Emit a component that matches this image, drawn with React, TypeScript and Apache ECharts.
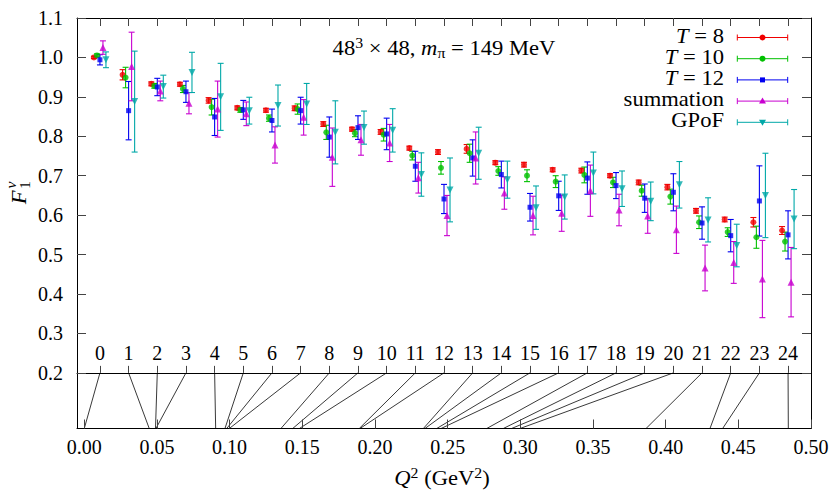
import React, { useEffect, useRef } from "react";
import * as echarts from "echarts";

// ---------- data ----------
const indexTicks = [0, 1, 2, 3, 4, 5, 6, 7, 8, 9, 10, 11, 12, 13, 14, 15, 16, 17, 18, 19, 20, 21, 22, 23, 24];
const q2TickValues = [0, 0.05, 0.1, 0.15, 0.2, 0.25, 0.3, 0.35, 0.4, 0.45, 0.5];
const yTickValues = [0.2, 0.3, 0.4, 0.5, 0.6, 0.7, 0.8, 0.9, 1.0, 1.1];

// Q^2 (GeV^2) belonging to each momentum index
const q2Values = [0, 0.0447, 0.049, 0.0493, 0.0904, 0.0968, 0.098, 0.0998, 0.1353, 0.1434, 0.148, 0.1892, 0.1897,
  0.2333, 0.2344, 0.2425, 0.2455, 0.2769, 0.2883, 0.294, 0.2998, 0.3865, 0.4305, 0.4392, 0.4844];

const t8Values = [1.0, 0.956, 0.933, 0.932, 0.891, 0.872, 0.866, 0.871, 0.831, 0.818, 0.811, 0.77, 0.76, 0.768,
  0.733, 0.728, 0.715, 0.713, 0.7, 0.683, 0.671, 0.611, 0.589, 0.582, 0.561];
const t8Errors = [0.003, 0.013, 0.005, 0.005, 0.007, 0.005, 0.005, 0.006, 0.006, 0.005, 0.006, 0.005, 0.006, 0.011,
  0.005, 0.006, 0.005, 0.006, 0.005, 0.006, 0.007, 0.006, 0.006, 0.012, 0.01];

const t10Values = [1.005, 0.949, 0.928, 0.92, 0.874, 0.867, 0.846, 0.869, 0.81, 0.808, 0.804, 0.751, 0.72, 0.757,
  0.712, 0.7, 0.685, 0.702, 0.683, 0.662, 0.647, 0.582, 0.557, 0.544, 0.533];
const t10Errors = [0.004, 0.026, 0.006, 0.009, 0.02, 0.006, 0.008, 0.013, 0.018, 0.009, 0.016, 0.011, 0.016, 0.023,
  0.011, 0.015, 0.015, 0.02, 0.013, 0.014, 0.019, 0.016, 0.011, 0.028, 0.024];

const t12Values = [0.994, 0.865, 0.925, 0.913, 0.849, 0.867, 0.84, 0.865, 0.798, 0.822, 0.806, 0.724, 0.641, 0.745,
  0.703, 0.62, 0.649, 0.694, 0.675, 0.643, 0.658, 0.58, 0.548, 0.636, 0.55];
const t12Errors = [0.013, 0.074, 0.022, 0.027, 0.047, 0.024, 0.029, 0.034, 0.051, 0.03, 0.04, 0.038, 0.037, 0.046,
  0.034, 0.035, 0.037, 0.041, 0.033, 0.036, 0.047, 0.041, 0.041, 0.089, 0.061];

const summationValues = [1.025, 0.977, 0.915, 0.884, 0.869, 0.857, 0.778, 0.848, 0.747, 0.791, 0.783, 0.695, 0.599,
  0.745, 0.656, 0.599, 0.605, 0.662, 0.613, 0.598, 0.563, 0.466, 0.48, 0.438, 0.43];
const summationErrors = [0.017, 0.087, 0.025, 0.027, 0.071, 0.03, 0.046, 0.045, 0.074, 0.039, 0.047, 0.039, 0.051,
  0.066, 0.041, 0.049, 0.046, 0.065, 0.04, 0.044, 0.06, 0.058, 0.053, 0.098, 0.088];

const gpofValues = [0.994, 0.888, 0.926, 0.962, 0.9, 0.865, 0.878, 0.882, 0.81, 0.822, 0.815, 0.703, 0.664, 0.757,
  0.69, 0.619, 0.646, 0.707, 0.667, 0.635, 0.677, 0.588, 0.523, 0.65, 0.59];
const gpofErrors = [0.02, 0.128, 0.029, 0.051, 0.085, 0.034, 0.052, 0.052, 0.08, 0.042, 0.055, 0.055, 0.081, 0.066,
  0.047, 0.055, 0.056, 0.053, 0.045, 0.049, 0.059, 0.056, 0.054, 0.107, 0.075];

// ---------- layout / style ----------
const FONT = "Liberation Serif";
const IDX_MIN = -0.8;
const IDX_MAX = 24.8;
const Q_MIN = -0.005;
const Q_MAX = 0.5;
const Y_MIN = 0.0589;
const Y_MAX = 1.1;
const Y_SPLIT = 0.2;
const GRID = { left: 77, right: 19, top: 18, bottom: 69.5 };
const CHART_H = 498;
const GRID_H = CHART_H - GRID.top - GRID.bottom;
const TEXT_SCALE = 1.13;

type Spec = {
  name: string;
  label: string;
  values: number[];
  errors: number[];
  color: string;
  symbol: string;
  size: number;
  rotate: number;
  shift: number;
  marker: "circle" | "square" | "up" | "down";
};

const SPECS: Spec[] = [
  { name: "T = 8", label: "{i|T}{n| = 8}", values: t8Values, errors: t8Errors, color: "#f00000", symbol: "circle", size: 6, rotate: 0, shift: -0.21, marker: "circle" },
  { name: "T = 10", label: "{i|T}{n| = 10}", values: t10Values, errors: t10Errors, color: "#00c000", symbol: "circle", size: 6, rotate: 0, shift: -0.105, marker: "circle" },
  { name: "T = 12", label: "{i|T}{n| = 12}", values: t12Values, errors: t12Errors, color: "#0000f0", symbol: "rect", size: 5, rotate: 0, shift: 0, marker: "square" },
  { name: "summation", label: "{n|summation}", values: summationValues, errors: summationErrors, color: "#c800d0", symbol: "triangle", size: 7, rotate: 0, shift: 0.105, marker: "up" },
  { name: "GPoF", label: "{n|GPoF}", values: gpofValues, errors: gpofErrors, color: "#00a8a8", symbol: "triangle", size: 7, rotate: 180, shift: 0.21, marker: "down" },
];

const RICH = {
  n: { fontFamily: FONT, fontSize: 20, lineHeight: 24, fill: "#000" },
  i: { fontFamily: FONT, fontSize: 20, lineHeight: 24, fontStyle: "italic", fill: "#000" },
  sup: { fontFamily: FONT, fontSize: 14, lineHeight: 14, verticalAlign: "top", fill: "#000" },
  sub: { fontFamily: FONT, fontSize: 14, lineHeight: 14, verticalAlign: "bottom", fill: "#000" },
};

const axisLineStyle = { color: "#000", width: 1 };
const tickStyle = { color: "#444", width: 1 };
const labelStyle = { fontFamily: FONT, fontSize: 20, color: "#000" };

function errorBarSeries(s: Spec) {
  return {
    type: "custom",
    name: s.name,
    xAxisIndex: 0,
    yAxisIndex: 0,
    z: 2,
    silent: true,
    encode: { x: 0, y: [1, 2] },
    data: s.values.map((v, i) => [indexTicks[i] + s.shift, v - s.errors[i], v + s.errors[i]]),
    renderItem: (_params: any, api: any) => {
      const x = api.value(0);
      const top = api.coord([x, api.value(2)]);
      const bot = api.coord([x, api.value(1)]);
      const cap = 3;
      const st = { stroke: s.color, lineWidth: 1.1 };
      return {
        type: "group",
        children: [
          { type: "line", shape: { x1: top[0], y1: top[1], x2: bot[0], y2: bot[1] }, style: st },
          { type: "line", shape: { x1: top[0] - cap, y1: top[1], x2: top[0] + cap, y2: top[1] }, style: st },
          { type: "line", shape: { x1: bot[0] - cap, y1: bot[1], x2: bot[0] + cap, y2: bot[1] }, style: st },
        ],
      };
    },
  };
}

function markerSeries(s: Spec) {
  return {
    type: "scatter",
    name: s.name,
    xAxisIndex: 0,
    yAxisIndex: 0,
    z: 3,
    symbol: s.symbol,
    symbolSize: s.size,
    symbolRotate: s.rotate,
    itemStyle: { color: s.color },
    data: s.values.map((v, i) => [indexTicks[i] + s.shift, v]),
  };
}

function legendGraphics() {
  const x0 = 737.3;
  const x1 = 787.7;
  const xm = 762.5;
  return SPECS.map((s, k) => {
    const y = 37.5 + k * 21.2;
    const st = { stroke: s.color, lineWidth: 1 };
    let marker: any;
    if (s.marker === "circle") marker = { type: "circle", shape: { cx: xm, cy: y, r: 3 }, style: { fill: s.color } };
    else if (s.marker === "square") marker = { type: "rect", shape: { x: xm - 2.5, y: y - 2.5, width: 5, height: 5 }, style: { fill: s.color } };
    else if (s.marker === "up") marker = { type: "polygon", shape: { points: [[xm, y - 3.5], [xm + 3.5, y + 2.5], [xm - 3.5, y + 2.5]] }, style: { fill: s.color } };
    else marker = { type: "polygon", shape: { points: [[xm, y + 3.5], [xm + 3.5, y - 2.5], [xm - 3.5, y - 2.5]] }, style: { fill: s.color } };
    return {
      type: "group",
      children: [
        {
          type: "text",
          x: 724,
          y: y - 1.5,
          scaleX: TEXT_SCALE,
          style: { text: s.label, rich: RICH, fontFamily: FONT, fontSize: 20, textAlign: "right", textVerticalAlign: "middle", fill: "#000" },
        },
        { type: "line", shape: { x1: x0, y1: y, x2: x1, y2: y }, style: st },
        { type: "line", shape: { x1: x0, y1: y - 3, x2: x0, y2: y + 3 }, style: st },
        { type: "line", shape: { x1: x1, y1: y - 3, x2: x1, y2: y + 3 }, style: st },
        marker,
      ],
    };
  });
}

function textGraphics() {
  return [
    {
      type: "text",
      x: 444,
      y: 48,
      scaleX: TEXT_SCALE,
      style: {
        text: "{n|48}{sup|3}{n| × 48, }{i|m}{sub|π}{n| = 149 MeV}",
        rich: RICH, fontFamily: FONT, fontSize: 20,
        textAlign: "center", textVerticalAlign: "middle", fill: "#000",
      },
    },
    {
      type: "text",
      x: 442,
      y: 478,
      scaleX: TEXT_SCALE,
      style: {
        text: "{i|Q}{sup|2}{n| (GeV}{sup|2}{n|)}",
        rich: RICH, fontFamily: FONT, fontSize: 20,
        textAlign: "center", textVerticalAlign: "middle", fill: "#000",
      },
    },
    {
      type: "group",
      x: 19,
      y: 194,
      rotation: Math.PI / 2,
      scaleX: TEXT_SCALE,
      children: [
        { type: "text", x: -3, y: 0, style: { text: "F", fontFamily: FONT, fontSize: 20, fontStyle: "italic", textAlign: "center", textVerticalAlign: "middle", fill: "#000" } },
        { type: "text", x: 8, y: 6, style: { text: "1", fontFamily: FONT, fontSize: 14, textAlign: "center", textVerticalAlign: "middle", fill: "#000" } },
        { type: "text", x: 8, y: -8, style: { text: "v", fontFamily: FONT, fontSize: 14, fontStyle: "italic", textAlign: "center", textVerticalAlign: "middle", fill: "#000" } },
      ],
    },
  ];
}

export default function App() {
  const ref = useRef<HTMLDivElement>(null);

  useEffect(() => {
    const el = ref.current;
    if (!el) return;
    const chart = echarts.init(el, undefined, { renderer: "svg" });
    const splitOffset = -((Y_SPLIT - Y_MIN) / (Y_MAX - Y_MIN)) * GRID_H;

    const option: any = {
      animation: false,
      backgroundColor: "#fff",
      textStyle: { fontFamily: FONT },
      grid: { ...GRID, containLabel: false, outerBoundsMode: "none", show: false },
      xAxis: [
        {
          type: "value",
          position: "top",
          min: IDX_MIN,
          max: IDX_MAX,
          axisLine: { show: true, onZero: false, lineStyle: axisLineStyle },
          axisTick: { show: true, inside: true, length: 8, customValues: indexTicks, lineStyle: tickStyle },
          axisLabel: { show: false },
          splitLine: { show: false },
        },
        {
          type: "value",
          position: "bottom",
          offset: splitOffset,
          min: IDX_MIN,
          max: IDX_MAX,
          axisLine: { show: true, onZero: false, lineStyle: axisLineStyle },
          axisTick: { show: true, inside: true, length: 7, customValues: indexTicks, lineStyle: tickStyle },
          axisLabel: { show: true, inside: true, margin: 10, customValues: indexTicks, formatter: (v: number) => String(Math.round(v)), ...labelStyle },
          splitLine: { show: false },
        },
        {
          type: "value",
          position: "bottom",
          min: Q_MIN,
          max: Q_MAX,
          axisLine: { show: true, onZero: false, lineStyle: axisLineStyle },
          axisTick: { show: true, inside: true, length: 9, customValues: q2TickValues, lineStyle: tickStyle },
          axisLabel: { show: true, margin: 8, customValues: q2TickValues, formatter: (v: number) => v.toFixed(2), ...labelStyle },
          splitLine: { show: false },
        },
      ],
      yAxis: [
        {
          type: "value",
          position: "left",
          min: Y_MIN,
          max: Y_MAX,
          axisLine: { show: true, onZero: false, lineStyle: axisLineStyle },
          axisTick: { show: true, inside: true, length: 9, customValues: yTickValues, lineStyle: tickStyle },
          axisLabel: { show: true, margin: 14, customValues: yTickValues, formatter: (v: number) => v.toFixed(1), ...labelStyle },
          splitLine: { show: false },
        },
        {
          type: "value",
          position: "right",
          min: Y_MIN,
          max: Y_MAX,
          axisLine: { show: true, onZero: false, lineStyle: axisLineStyle },
          axisTick: { show: true, inside: true, length: 9, customValues: yTickValues, lineStyle: tickStyle },
          axisLabel: { show: false },
          splitLine: { show: false },
        },
      ],
      series: [...SPECS.map(errorBarSeries), ...SPECS.map(markerSeries)],
    };

    chart.setOption(option);

    // lines that map each momentum index to its Q^2 value (lower panel)
    const yTop = chart.convertToPixel({ yAxisIndex: 0 }, Y_SPLIT) as number;
    const yBot = chart.convertToPixel({ yAxisIndex: 0 }, Y_MIN) as number;
    const mapLines = indexTicks.map((idx, i) => {
      const xt = chart.convertToPixel({ xAxisIndex: 0 }, idx) as number;
      const xb = chart.convertToPixel({ xAxisIndex: 2 }, q2Values[i]) as number;
      return { type: "line", silent: true, shape: { x1: xt, y1: yTop, x2: xb, y2: yBot }, style: { stroke: "#222", lineWidth: 0.9 } };
    });

    chart.setOption({ graphic: [...mapLines, ...legendGraphics(), ...textGraphics()] });

    // make sure every text of the SVG really uses the serif family
    const fixFonts = () => {
      el.querySelectorAll("text, tspan").forEach((t) => {
        (t as SVGElement).style.fontFamily = '"Liberation Serif", serif';
      });
    };
    fixFonts();
    chart.on("finished", fixFonts);
    const raf = requestAnimationFrame(fixFonts);
    const timer = setTimeout(fixFonts, 50);

    return () => {
      cancelAnimationFrame(raf);
      clearTimeout(timer);
      chart.dispose();
    };
  }, []);

  return (
    <div
      ref={ref}
      style={{ position: "fixed", left: 0, top: 0, width: 830, height: 498, background: "#fff" }}
    />
  );
}
